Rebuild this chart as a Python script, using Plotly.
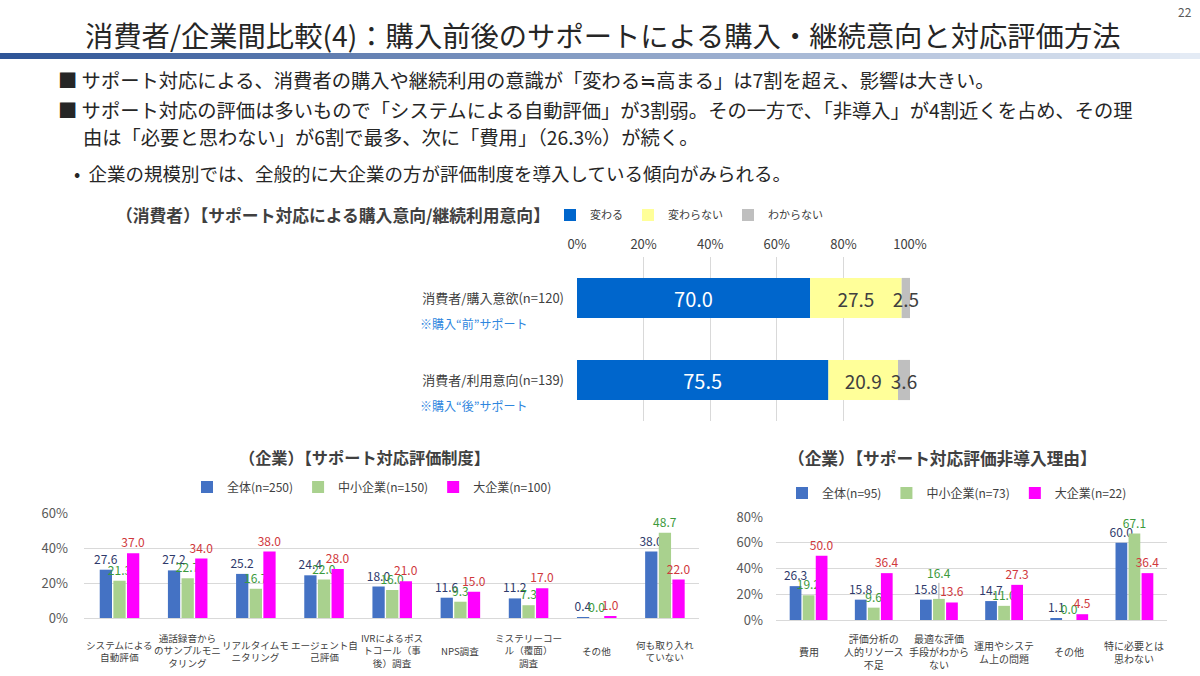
import plotly.graph_objects as go

# ---------------- data ----------------
title_text = "消費者/企業間比較(4)：購入前後のサポートによる購入・継続意向と対応評価方法"
page_no = "22"
bullet1 = "■ サポート対応による、消費者の購入や継続利用の意識が「変わる≒高まる」は7割を超え、影響は大きい。"
bullet2a = "■ サポート対応の評価は多いもので「システムによる自動評価」が3割弱。その一方で、「非導入」が4割近くを占め、その理"
bullet2b = "由は「必要と思わない」が6割で最多、次に「費用」（26.3%）が続く。"
bullet3 = "•  企業の規模別では、全般的に大企業の方が評価制度を導入している傾向がみられる。"

top_title = "（消費者）【サポート対応による購入意向/継続利用意向】"
top_categories = ["消費者/購入意欲(n=120)", "消費者/利用意向(n=139)"]
top_notes = ["※購入“前”サポート", "※購入“後”サポート"]
top_series = ["変わる", "変わらない", "わからない"]
top_kawaru = [70.0, 75.5]
top_kawaranai = [27.5, 20.9]
top_wakaranai = [2.5, 3.6]
top_ticks = [0, 20, 40, 60, 80, 100]

bl_title = "（企業）【サポート対応評価制度】"
bl_categories = ["システムによる<br>自動評価", "通話録音から<br>のサンプルモニ<br>タリング", "リアルタイムモ<br>ニタリング",
                 "エージェント自<br>己評価", "IVRによるポス<br>トコール（事<br>後）調査", "NPS調査",
                 "ミステリーコー<br>ル（覆面）<br>調査", "その他", "何も取り入れ<br>ていない"]
bl_series = ["全体(n=250)", "中小企業(n=150)", "大企業(n=100)"]
bl_all = [27.6, 27.2, 25.2, 24.4, 18.0, 11.6, 11.2, 0.4, 38.0]
bl_sme = [21.3, 22.7, 16.7, 22.0, 16.0, 9.3, 7.3, 0.0, 48.7]
bl_large = [37.0, 34.0, 38.0, 28.0, 21.0, 15.0, 17.0, 1.0, 22.0]
bl_ticks = [0, 20, 40, 60]

br_title = "（企業）【サポート対応評価非導入理由】"
br_categories = ["費用", "評価分析の<br>人的リソース<br>不足", "最適な評価<br>手段がわから<br>ない",
                 "運用やシステ<br>ム上の問題", "その他", "特に必要とは<br>思わない"]
br_series = ["全体(n=95)", "中小企業(n=73)", "大企業(n=22)"]
br_all = [26.3, 15.8, 15.8, 14.7, 1.1, 60.0]
br_sme = [19.2, 9.6, 16.4, 11.0, 0.0, 67.1]
br_large = [50.0, 36.4, 13.6, 27.3, 4.5, 36.4]
br_ticks = [0, 20, 40, 60, 80]

# ---------------- styles ----------------
W, H = 1200, 676
FONT = "Noto Sans CJK JP"
TXT = "#404040"
C_BLUE_TOP, C_YEL, C_GRAY = "#0066CC", "#FFFF99", "#BFBFBF"
C_ALL, C_SME, C_LARGE = "#4472C4", "#A9D18E", "#FF00FF"
L_ALL, L_SME, L_LARGE = "#2F3A6B", "#3C9A3C", "#D0383C"
GRID = "#D9D9D9"
BR_SME_CALLOUT = 2  # index of the 中小企業 label drawn with a leader line (right chart)


def px(x):
    return x / W


def py(y):
    return 1 - y / H


def pct(ticks):
    return [f"{v}%" for v in ticks]


fig = go.Figure()

# ---------- top chart (stacked horizontal, via base) ----------
base2 = top_kawaru
base3 = [a + b for a, b in zip(top_kawaru, top_kawaranai)]
top_specs = [
    (top_series[0], top_kawaru, [0, 0], C_BLUE_TOP, "white", 20),
    (top_series[1], top_kawaranai, base2, C_YEL, TXT, 19),
    (top_series[2], top_wakaranai, base3, C_GRAY, TXT, 19),
]
for name, vals, base, col, tcol, tsize in top_specs:
    fig.add_trace(go.Bar(
        x=vals, y=top_categories, base=base, orientation="h", name=name,
        marker=dict(color=col, line=dict(width=0)), width=0.49, offsetgroup="top",
        text=[f"{v:.1f}" for v in vals], textposition="inside", insidetextanchor="middle",
        constraintext="none", textfont=dict(color=tcol, size=tsize, family=FONT),
        cliponaxis=False, xaxis="x", yaxis="y", legend="legend",
    ))

# ---------- bottom-left chart ----------
for name, vals, col, lcol, og in [(bl_series[0], bl_all, C_ALL, L_ALL, "a"),
                                  (bl_series[1], bl_sme, C_SME, L_SME, "b"),
                                  (bl_series[2], bl_large, C_LARGE, L_LARGE, "c")]:
    fig.add_trace(go.Bar(
        x=bl_categories, y=vals, name=name, marker=dict(color=col, line=dict(width=0)),
        offsetgroup="bl" + og, text=[f"{v:.1f}" for v in vals], textposition="outside",
        constraintext="none", textfont=dict(color=lcol, size=12, family=FONT),
        cliponaxis=False, xaxis="x2", yaxis="y2", legend="legend2",
    ))

# ---------- bottom-right chart ----------
for name, vals, col, lcol, og in [(br_series[0], br_all, C_ALL, L_ALL, "a"),
                                  (br_series[1], br_sme, C_SME, L_SME, "b"),
                                  (br_series[2], br_large, C_LARGE, L_LARGE, "c")]:
    texts = [f"{v:.1f}" for v in vals]
    if og == "b":
        texts[BR_SME_CALLOUT] = ""
    fig.add_trace(go.Bar(
        x=br_categories, y=vals, name=name, marker=dict(color=col, line=dict(width=0)),
        offsetgroup="br" + og, text=texts, textposition="outside",
        constraintext="none", textfont=dict(color=lcol, size=12, family=FONT),
        cliponaxis=False, xaxis="x3", yaxis="y3", legend="legend3",
    ))

tickfont = dict(family=FONT, size=13, color="#595959")

fig.update_layout(
    width=W, height=H, margin=dict(l=0, r=0, t=0, b=0, pad=0, autoexpand=False),
    paper_bgcolor="white", plot_bgcolor="white",
    font=dict(family=FONT, color=TXT),
    barmode="group", bargap=0.4, bargroupgap=0.1,
    showlegend=True,
    xaxis=dict(domain=[px(577), px(910)], range=[0, 100], side="top", tickmode="array",
               tickvals=top_ticks, ticktext=pct(top_ticks),
               showgrid=True, gridcolor=GRID, zeroline=False, showline=False,
               tickfont=dict(family=FONT, size=13, color=TXT), ticklabelstandoff=4, anchor="y",
               automargin=False),
    yaxis=dict(domain=[py(421), py(257)], type="category", autorange="reversed",
               showgrid=False, zeroline=False, showline=False, anchor="x",
               tickfont=dict(family=FONT, size=13, color=TXT), ticklabelstandoff=12,
               automargin=False),
    xaxis2=dict(domain=[px(84), px(699)], type="category", showgrid=False, showline=True,
                linecolor=GRID, showticklabels=False, ticks="", anchor="y2", automargin=False),
    yaxis2=dict(domain=[py(618), py(513)], range=[0, 60], tickmode="array", tickvals=bl_ticks,
                ticktext=pct(bl_ticks), showgrid=True, gridcolor=GRID, zeroline=False,
                showline=False, tickfont=tickfont, ticklabelstandoff=15, anchor="x2",
                automargin=False),
    xaxis3=dict(domain=[px(776), px(1167)], type="category", showgrid=False, showline=True,
                linecolor=GRID, showticklabels=False, ticks="", anchor="y3", automargin=False),
    yaxis3=dict(domain=[py(620), py(517)], range=[0, 80], tickmode="array", tickvals=br_ticks,
                ticktext=pct(br_ticks), showgrid=True, gridcolor=GRID, zeroline=False,
                showline=False, tickfont=tickfont, ticklabelstandoff=12, anchor="x3",
                automargin=False),
    legend=dict(orientation="h", x=px(550), y=py(215), xanchor="left", yanchor="middle",
                font=dict(family=FONT, size=11, color=TXT), bgcolor="rgba(0,0,0,0)",
                itemwidth=30),
    legend2=dict(orientation="h", x=px(372), y=py(487), xanchor="center", yanchor="middle",
                 font=dict(family=FONT, size=12, color=TXT), bgcolor="rgba(0,0,0,0)",
                 itemwidth=30),
    legend3=dict(orientation="h", x=px(957), y=py(493), xanchor="center", yanchor="middle",
                 font=dict(family=FONT, size=12, color=TXT), bgcolor="rgba(0,0,0,0)",
                 itemwidth=30),
)

ann = []
# title & page number
ann.append(dict(text=title_text, x=px(602), y=py(35), xref="paper", yref="paper",
                xanchor="center", yanchor="middle", showarrow=False,
                font=dict(family=FONT, size=28.3, color="#262626")))
ann.append(dict(text=page_no, x=px(1194), y=py(12), xref="paper", yref="paper",
                xanchor="right", yanchor="middle", showarrow=False,
                font=dict(family=FONT, size=12, color="#595959")))
# bullets
for t, x, y, s in [(bullet1, 56, 80, 19.3), (bullet2a, 56, 110, 19.3), (bullet2b, 81, 137, 19.3),
                   (bullet3, 72, 173, 18.5)]:
    ann.append(dict(text=t, x=px(x), y=py(y), xref="paper", yref="paper", xanchor="left",
                    yanchor="middle", showarrow=False, font=dict(family=FONT, size=s, color="#262626")))
# chart titles
ann.append(dict(text="<b>" + top_title + "</b>", x=px(114), y=py(215), xref="paper", yref="paper",
                xanchor="left", yanchor="middle", showarrow=False,
                font=dict(family=FONT, size=16.8, color=TXT)))
ann.append(dict(text="<b>" + bl_title + "</b>", x=px(364), y=py(457), xref="paper", yref="paper",
                xanchor="center", yanchor="middle", showarrow=False,
                font=dict(family=FONT, size=16.2, color=TXT)))
ann.append(dict(text="<b>" + br_title + "</b>", x=px(942), y=py(458), xref="paper", yref="paper",
                xanchor="center", yanchor="middle", showarrow=False,
                font=dict(family=FONT, size=16.7, color=TXT)))
# notes under top categories
for cat, note in zip(top_categories, top_notes):
    ann.append(dict(text=note, x=px(418), y=cat, xref="paper", yref="y", yshift=-25,
                    xanchor="left", yanchor="middle", showarrow=False,
                    font=dict(family=FONT, size=12, color="#2E86DE")))
# category labels for bottom charts
for cat in bl_categories:
    ann.append(dict(text=cat, x=cat, y=-0.31, xref="x2", yref="y2 domain", xanchor="center",
                    yanchor="middle", showarrow=False, align="center",
                    font=dict(family=FONT, size=9.6, color=TXT)))
for cat in br_categories:
    ann.append(dict(text=cat, x=cat, y=-0.31, xref="x3", yref="y3 domain", xanchor="center",
                    yanchor="middle", showarrow=False, align="center",
                    font=dict(family=FONT, size=10, color=TXT)))
# raised 中小企業 label with a leader line (right chart)
ann.append(dict(text=f"{br_sme[BR_SME_CALLOUT]:.1f}", x=br_categories[BR_SME_CALLOUT],
                y=br_sme[BR_SME_CALLOUT], xref="x3", yref="y3", showarrow=True, arrowhead=0,
                arrowwidth=1, arrowcolor="#A6A6A6", ax=0, ay=-26, standoff=0,
                font=dict(family=FONT, size=12, color=L_SME)))
fig.update_layout(annotations=ann)

# decorative gradient band under the title
shapes = []
n = 60
c0 = (0x2F, 0x55, 0x97)
c1 = (0xE4, 0xEB, 0xF5)
for i in range(n):
    t = i / (n - 1)
    r = int(c0[0] + (c1[0] - c0[0]) * t)
    g = int(c0[1] + (c1[1] - c0[1]) * t)
    b = int(c0[2] + (c1[2] - c0[2]) * t)
    shapes.append(dict(type="rect", xref="paper", yref="paper", x0=i / n, x1=(i + 1) / n + 0.001,
                       y0=py(59), y1=py(53), fillcolor=f"rgb({r},{g},{b})", line=dict(width=0),
                       layer="below"))
fig.update_layout(shapes=shapes)

fig.write_html("out.html", config={"displayModeBar": False},
               post_script="document.body.style.margin='0';")
